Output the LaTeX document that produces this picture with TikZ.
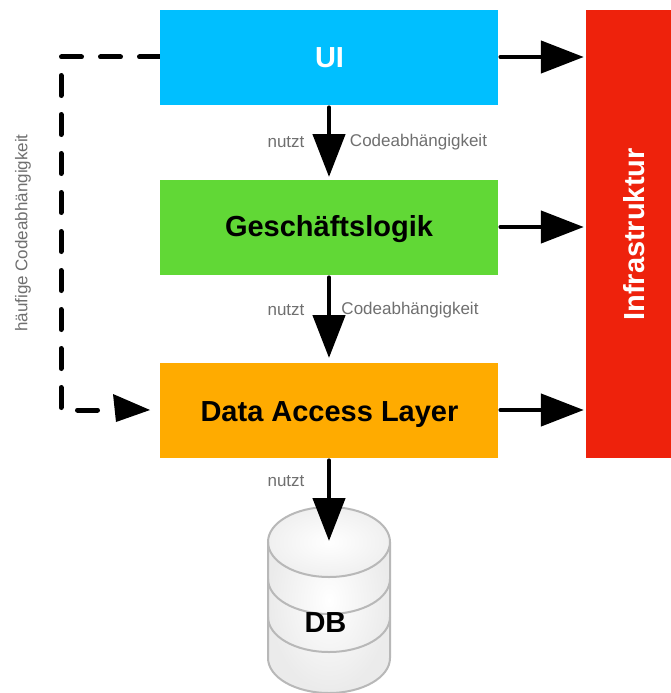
\documentclass[tikz,border=0pt]{standalone}
\usepackage{fontspec}
\setmainfont{Liberation Sans}
\usetikzlibrary{arrows.meta}
\definecolor{uiblue}{HTML}{00BFFF}
\definecolor{glgreen}{HTML}{61D836}
\definecolor{dalorange}{HTML}{FFAB00}
\definecolor{infrared}{HTML}{EE220C}
\definecolor{labelgray}{HTML}{6F6F6F}
\definecolor{dbline}{HTML}{B8B8B8}
\tikzset{
  x=1pt,y=-1pt,
  layerbox/.style={rectangle,inner sep=0pt,minimum width=338pt,minimum height=95pt},
  boxtext/.style={inner sep=0pt,font=\fontsize{29}{32}\selectfont\bfseries},
  flow/.style={line width=4.6pt,line cap=round,shorten <=2.5pt,-{Triangle[length=43pt,width=32pt]}},
  dep/.style={line width=5pt,line cap=round,dash pattern=on 20pt off 19pt},
  lbl/.style={font=\fontsize{17}{19}\selectfont,text=labelgray,inner sep=0pt},
  dbstroke/.style={draw=dbline,line width=2pt},
}
\begin{document}
\begin{tikzpicture}
\useasboundingbox (0,0) rectangle (671,693);
% dependency line under the boxes
\coordinate (bendtop) at (61,57);
\coordinate (bendbot) at (61,410);
\draw[dep] (159.5,57) -- (bendtop) -- (bendbot) -- (108,410);
\fill (113,394) -- (150,410) -- (116,422) -- cycle;
% boxes
\node[layerbox,fill=uiblue] (ui) at (329,57.5) {};
\node[layerbox,fill=glgreen] (gl) at (329,227.5) {};
\node[layerbox,fill=dalorange] (dal) at (329,410.5) {};
\node[boxtext,text=white] (uitext) at (329.5,57.5) {UI};
\node[boxtext] (gltext) at (329,229.5) {Geschäftslogik};
\node[boxtext] (daltext) at (329.5,414.5) {Data Access Layer};
\node[rectangle,inner sep=0pt,fill=infrared,minimum width=85pt,minimum height=448pt] (infra) at (628.5,234) {};
\node[rotate=90,text=white,boxtext,inner sep=0pt] (infratext) at (634,234.5) {Infrastruktur};
% database
\shade[inner color=white,outer color=gray!16] (268,542) -- (268,658) arc[start angle=180,end angle=360,x radius=61,y radius=-35] -- (390,542) arc[start angle=0,end angle=180,x radius=61,y radius=-35] -- cycle;
\shade[inner color=white,outer color=gray!12] (329,542) ellipse[x radius=61,y radius=35];
\draw[dbstroke] (268,542) -- (268,658) arc[start angle=180,end angle=360,x radius=61,y radius=-35] -- (390,542);
\draw[dbstroke] (329,542) ellipse[x radius=61,y radius=35];
\draw[dbstroke] (268,579) arc[start angle=180,end angle=360,x radius=61,y radius=-35];
\draw[dbstroke] (268,617) arc[start angle=180,end angle=360,x radius=61,y radius=-35];
\coordinate (dbtop) at (329,541);
\node[boxtext] (db) at (325.5,622.5) {DB};
% arrows
\coordinate (glin) at (329,177);
\coordinate (dalin) at (329,358);
\draw[flow] (ui.south) -- (glin);
\draw[flow] (gl.south) -- (dalin);
\draw[flow] (dal.south) -- (dbtop);
\draw[flow,shorten >=2pt] ([yshift=0.5pt]ui.east) -- ([yshift=0.5pt]ui.east -| infra.west);
\draw[flow,shorten >=2pt] ([yshift=0.5pt]gl.east) -- ([yshift=0.5pt]gl.east -| infra.west);
\draw[flow,shorten >=2pt] ([yshift=0.5pt]dal.east) -- ([yshift=0.5pt]dal.east -| infra.west);
% labels
\node[lbl] (n1) at (286,142) {nutzt};
\node[lbl] (c1) at (418.5,142) {Codeabhängigkeit};
\node[lbl] (n2) at (286,310) {nutzt};
\node[lbl] (c2) at (410,310) {Codeabhängigkeit};
\node[lbl] (n3) at (286,481) {nutzt};
\node[lbl,rotate=90] (c3) at (23,233) {häufige Codeabhängigkeit};
\end{tikzpicture}
\end{document}
